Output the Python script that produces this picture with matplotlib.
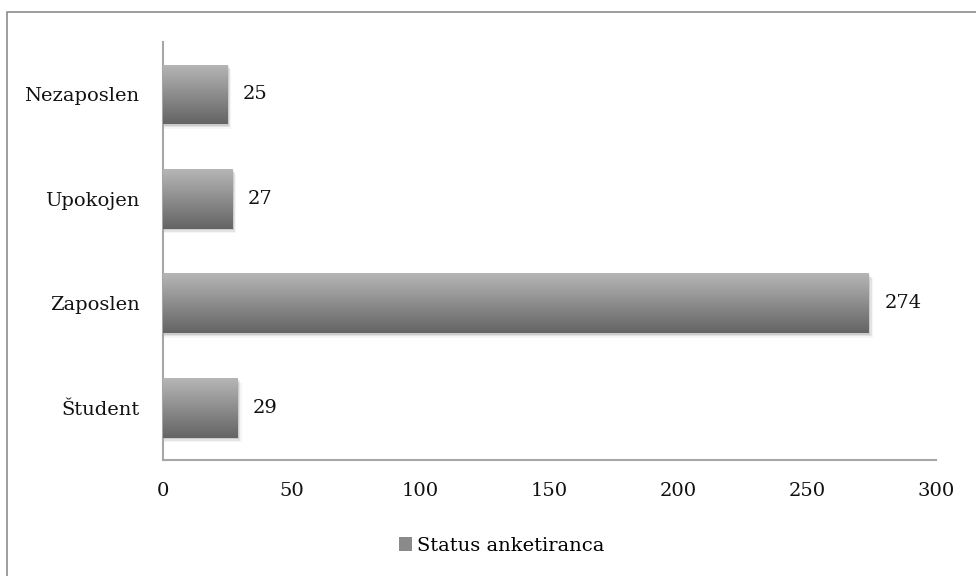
import numpy as np
import matplotlib
matplotlib.use('Agg')
import matplotlib.pyplot as plt
from matplotlib.patches import Rectangle, Patch
from matplotlib.colors import LinearSegmentedColormap

# data
categories = ['Študent', 'Zaposlen', 'Upokojen', 'Nezaposlen']
values = [29, 274, 27, 25]
xticks = [0, 50, 100, 150, 200, 250, 300]
series_name = 'Status anketiranca'

plt.rcParams['font.family'] = ['DejaVu Serif']

fig = plt.figure(figsize=(9.76, 5.76), dpi=100)
ax = fig.add_axes([0.167, 0.2014, 0.792, 0.7256])

# outer frame (only left and top edges show in the reference)
fig.patches.append(Rectangle((7 / 976, -0.1), 1.2, 1 - 12 / 576 + 0.1,
                             transform=fig.transFigure, fill=False,
                             edgecolor='#8c8c8c', linewidth=1.2))

ypos = np.arange(len(categories))
bar_h = 0.57

# soft shadow under each bar
for i, v in enumerate(values):
    for k, a in enumerate([0.10, 0.07, 0.04]):
        off = 0.5 * (k + 1)
        ax.barh(ypos[i] - 0.015 * (k + 1), v + off, height=bar_h, left=0,
                color='#000000', alpha=a, zorder=1, linewidth=0)

bars = ax.barh(ypos, values, height=bar_h, color='none', zorder=2, linewidth=0)

# vertical gradient: light on top, dark at the bottom
cmap = LinearSegmentedColormap.from_list('g', ['#646464', '#b6b6b6'])
grad = np.linspace(0, 1, 100).reshape(-1, 1)
for b in bars:
    x0, y0 = b.get_x(), b.get_y()
    w, h = b.get_width(), b.get_height()
    im = ax.imshow(grad, cmap=cmap, aspect='auto', origin='lower',
                   extent=(x0, x0 + w, y0, y0 + h), zorder=3)
    im.set_clip_path(b)

for i, v in enumerate(values):
    ax.text(v + 6, ypos[i], str(v), va='center', ha='left', fontsize=14,
            color='#111111')

ax.set_xlim(0, 300)
ax.set_ylim(-0.5, len(categories) - 0.5)
ax.set_xticks(xticks)
ax.set_xticklabels([str(t) for t in xticks])
ax.set_yticks(ypos)
ax.set_yticklabels(categories)
ax.tick_params(axis='both', length=0, labelsize=14, colors='#111111')
ax.tick_params(axis='x', pad=16)
ax.tick_params(axis='y', pad=17)

for s in ['top', 'right']:
    ax.spines[s].set_visible(False)
for s in ['left', 'bottom']:
    ax.spines[s].set_color('#a6a6a6')
    ax.spines[s].set_linewidth(1.5)

handle = Patch(facecolor='#8a8a8a', edgecolor='none')
fig.legend([handle], [series_name], loc='center', bbox_to_anchor=(0.514, 0.052),
           frameon=False, fontsize=14, handlelength=0.7, handleheight=0.7,
           handletextpad=0.25)

fig.savefig('out.png', dpi=100)
